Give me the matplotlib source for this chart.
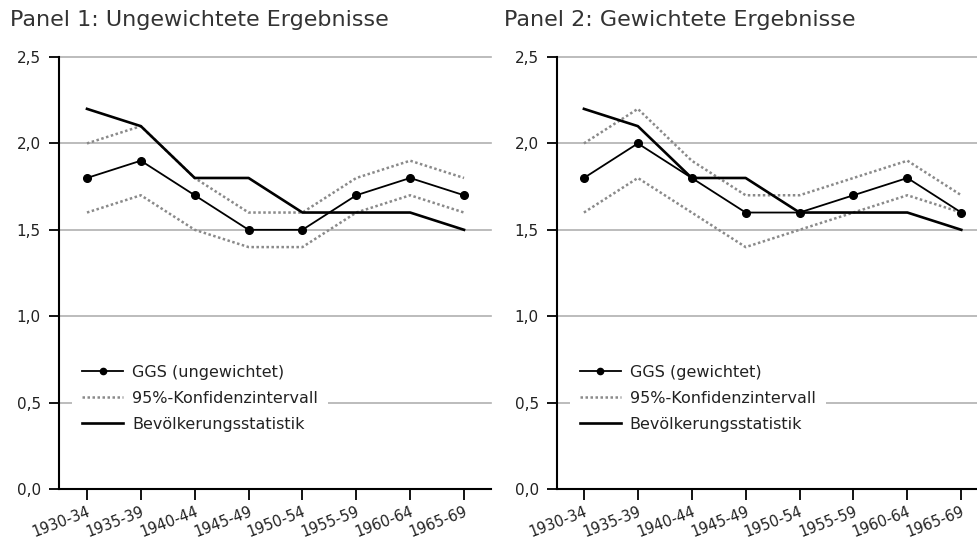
import matplotlib
matplotlib.use('Agg')
import matplotlib.pyplot as plt

plt.rcParams['font.family'] = ['DejaVu Sans']

periods = ['1930-34', '1935-39', '1940-44', '1945-49', '1950-54', '1955-59', '1960-64', '1965-69']

# Panel 1: ungewichtet
ggs_unw = [1.8, 1.9, 1.7, 1.5, 1.5, 1.7, 1.8, 1.7]
ci_hi_unw = [2.0, 2.1, 1.8, 1.6, 1.6, 1.8, 1.9, 1.8]
ci_lo_unw = [1.6, 1.7, 1.5, 1.4, 1.4, 1.6, 1.7, 1.6]

# Panel 2: gewichtet
ggs_w = [1.8, 2.0, 1.8, 1.6, 1.6, 1.7, 1.8, 1.6]
ci_hi_w = [2.0, 2.2, 1.9, 1.7, 1.7, 1.8, 1.9, 1.7]
ci_lo_w = [1.6, 1.8, 1.6, 1.4, 1.5, 1.6, 1.7, 1.6]

# Bevölkerungsstatistik (beide Panels)
pop = [2.2, 2.1, 1.8, 1.8, 1.6, 1.6, 1.6, 1.5]

yticks = [0.0, 0.5, 1.0, 1.5, 2.0, 2.5]
ytick_labels = ['0,0', '0,5', '1,0', '1,5', '2,0', '2,5']

text_col = '#222222'
ci_col = '#8a8a8a'
grid_col = '#b0b0b0'
ci_style = (0, (1, 1))

fig = plt.figure(figsize=(9.78, 5.38), dpi=100)

panels = [
    dict(rect=[0.0603, 0.0911, 0.4417, 0.8029], xlim=(-0.52, 7.5),
         title='Panel 1: Ungewichtete Ergebnisse', title_x=0.0102,
         ggs=ggs_unw, hi=ci_hi_unw, lo=ci_lo_unw, label='GGS (ungewichtet)'),
    dict(rect=[0.5695, 0.0911, 0.4305, 0.8029], xlim=(-0.5, 7.31),
         title='Panel 2: Gewichtete Ergebnisse', title_x=0.515,
         ggs=ggs_w, hi=ci_hi_w, lo=ci_lo_w, label='GGS (gewichtet)'),
]

x = list(range(len(periods)))

for p in panels:
    ax = fig.add_axes(p['rect'])
    ax.set_xlim(*p['xlim'])
    ax.set_ylim(0, 2.5)

    for yv in yticks[1:]:
        ax.axhline(yv, color=grid_col, lw=1.2, zorder=0, clip_on=False)

    ax.plot(x, p['hi'], color=ci_col, lw=1.8, ls=ci_style, zorder=2)
    ax.plot(x, p['lo'], color=ci_col, lw=1.8, ls=ci_style, zorder=2,
            label='95%-Konfidenzintervall')
    ax.plot(x, pop, color='black', lw=1.9, zorder=3, label='Bevölkerungsstatistik')
    ax.plot(x, p['ggs'], color='black', lw=1.3, marker='o', ms=5.5, zorder=4,
            label=p['label'])

    for s in ['top', 'right']:
        ax.spines[s].set_visible(False)
    for s in ['left', 'bottom']:
        ax.spines[s].set_linewidth(1.5)
        ax.spines[s].set_color('black')

    ax.set_yticks(yticks)
    ax.set_yticklabels(ytick_labels, fontsize=11, color=text_col)
    ax.set_xticks(x)
    ax.set_xticklabels(periods, fontsize=10.5, color=text_col, rotation=21,
                       ha='right', va='top', rotation_mode='anchor')
    ax.tick_params(axis='y', length=7, width=1.3, pad=6)
    ax.tick_params(axis='x', length=8, width=1.3, pad=2.5)

    handles, labels = ax.get_legend_handles_labels()
    order = [2, 0, 1]
    leg = ax.legend([handles[i] for i in order], [labels[i] for i in order],
                    loc='center left', bbox_to_anchor=(0.03, 0.21),
                    fontsize=11.5, frameon=True, facecolor='white',
                    edgecolor='none', framealpha=1, fancybox=False,
                    handlelength=2.56, handletextpad=0.56, labelspacing=0.68,
                    numpoints=1, borderpad=0.65, borderaxespad=0)
    for t in leg.get_texts():
        t.set_color(text_col)
    leg.legend_handles[0].set_markersize(4.5)

    fig.text(p['title_x'], 0.9517, p['title'], fontsize=16, color='#333333',
             ha='left', va='baseline')

fig.savefig('out.png', dpi=100)
